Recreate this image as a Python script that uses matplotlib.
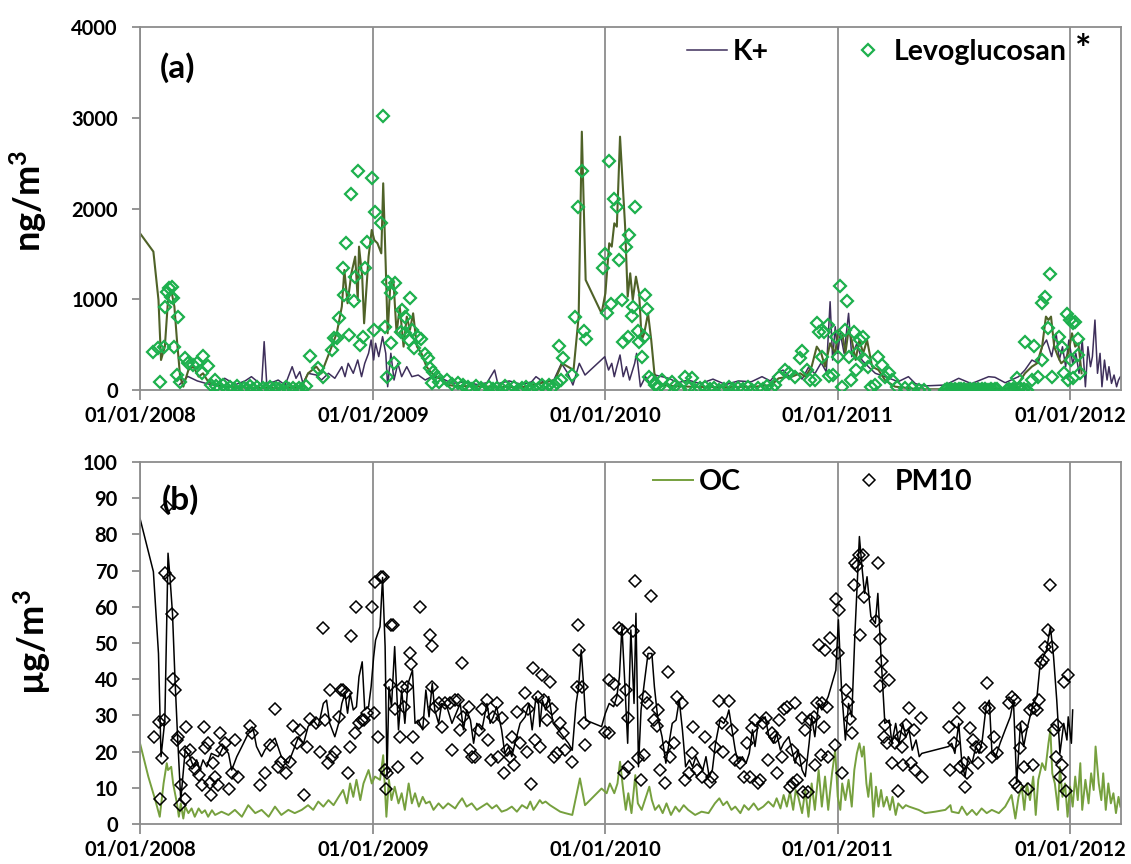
import matplotlib
matplotlib.use("Agg")
import matplotlib.pyplot as plt
import matplotlib.dates as mdates
import pandas as pd

plt.rcParams['font.family'] = ['Lato', 'DejaVu Sans']
plt.rcParams['font.weight'] = 'bold'
plt.rcParams['mathtext.fontset'] = 'custom'
plt.rcParams['mathtext.rm'] = 'Lato:bold'
plt.rcParams['mathtext.it'] = 'Lato:bold'
plt.rcParams['mathtext.bf'] = 'Lato:bold'

START = pd.Timestamp('2008-01-01')
year_ticks = [2008, 2009, 2010, 2011, 2012]

# (days since 01/01/2008, value)
levo_line = [(0, 1727), (21, 1525), (29, 992), (33, 331), (39, 478), (44, 992), (49, 1102), (54, 919),
             (58, 551), (63, 147), (68, 37), (76, 221), (84, 258), (92, 147), (99, 184), (107, 92),
             (118, 55), (133, 37), (149, 30), (175, 25), (202, 22), (228, 26), (254, 30), (264, 184),
             (277, 258), (285, 184), (293, 331), (301, 478), (309, 625), (317, 919), (321, 1323),
             (326, 956), (332, 1286), (338, 1470), (342, 992), (344, 1580), (349, 1249), (352, 735),
             (359, 1470), (364, 1764), (368, 1653), (373, 1617), (379, 1506), (382, 2278), (386, 1360),
             (389, 625), (393, 1139), (398, 1213), (403, 625), (408, 919), (414, 478), (419, 809),
             (424, 662), (429, 845), (435, 478), (442, 405), (450, 258), (458, 184), (466, 147),
             (474, 111), (484, 55), (495, 45), (547, 37), (600, 30), (652, 111), (663, 294), (681, 221),
             (689, 809), (694, 2847), (700, 1213), (725, 845), (731, 1066), (737, 1617), (741, 1580),
             (745, 1837), (749, 1800), (754, 2792), (762, 1800), (766, 1029), (770, 1286), (774, 992),
             (779, 1249), (784, 1066), (788, 551), (792, 625), (798, 845), (803, 551), (808, 184),
             (814, 74), (830, 45), (862, 37), (914, 30), (966, 37), (992, 55), (1003, 129), (1019, 147),
             (1024, 147), (1037, 184), (1045, 147), (1055, 258), (1063, 478), (1070, 405), (1076, 258),
             (1084, 515), (1092, 405), (1097, 662), (1103, 625), (1108, 405), (1113, 662), (1118, 551),
             (1124, 331), (1130, 551), (1136, 405), (1142, 551), (1150, 258), (1160, 221), (1170, 111),
             (1186, 37), (1223, 8), (1275, 8), (1328, 15), (1375, 15), (1380, 74), (1390, 184),
             (1401, 258), (1409, 294), (1417, 478), (1423, 809), (1427, 772), (1431, 809), (1436, 478),
             (1442, 368), (1447, 294), (1453, 331), (1458, 405), (1464, 625), (1469, 478), (1474, 515),
             (1479, 184)]

k_line = [(62, 60), (75, 150), (90, 100), (105, 70), (118, 50), (133, 129), (150, 60), (165, 100),
          (175, 147), (185, 90), (191, 55), (195, 533), (199, 73), (210, 90), (217, 110), (228, 55),
          (239, 257), (245, 129), (251, 202), (256, 73), (264, 184), (277, 165), (285, 110), (296, 184),
          (306, 129), (317, 257), (322, 147), (327, 294), (335, 184), (342, 331), (348, 147), (353, 294),
          (359, 405), (363, 551), (367, 331), (370, 515), (375, 368), (381, 588), (386, 405), (389, 36),
          (394, 405), (399, 110), (405, 294), (411, 147), (419, 257), (427, 147), (437, 165), (448, 110),
          (458, 147), (474, 129), (490, 73), (510, 90), (530, 60), (545, 80), (557, 220), (562, 70),
          (580, 100), (600, 60), (615, 90), (622, 147), (635, 80), (650, 110), (662, 294), (672, 184),
          (680, 55), (690, 294), (699, 165), (730, 367), (736, 220), (741, 294), (745, 147), (749, 257),
          (754, 386), (759, 147), (764, 257), (769, 110), (777, 294), (780, 404), (786, 36), (794, 147),
          (801, 73), (809, 165), (830, 130), (845, 80), (861, 110), (880, 70), (900, 120), (920, 60),
          (940, 100), (960, 90), (977, 147), (990, 100), (1000, 184), (1010, 220), (1020, 150),
          (1030, 200), (1040, 120), (1050, 250), (1060, 180), (1070, 300), (1078, 200), (1084, 973),
          (1088, 330), (1092, 698), (1096, 404), (1100, 624), (1106, 404), (1113, 845), (1118, 367),
          (1126, 514), (1134, 330), (1144, 257), (1155, 184), (1170, 147), (1191, 92), (1207, 147),
          (1218, 70), (1232, 45), (1265, 55), (1286, 129), (1306, 70), (1333, 147), (1343, 140),
          (1359, 80), (1380, 147), (1390, 220), (1401, 330), (1411, 294), (1417, 477), (1424, 551),
          (1432, 368), (1439, 624), (1444, 330), (1449, 477), (1454, 257), (1459, 551), (1465, 294),
          (1470, 404), (1475, 184), (1480, 551), (1485, 36), (1489, 477), (1493, 257), (1496, 368),
          (1500, 771), (1504, 184), (1508, 404), (1511, 36), (1515, 330), (1519, 110), (1522, 257),
          (1526, 73), (1530, 165), (1534, 36), (1537, 110), (1540, 147)]

levo_pts = [(21, 423), (31, 92), (28, 460), (37, 478), (39, 919), (43, 1084), (46, 1121), (51, 1139),
            (49, 1029), (52, 1011), (59, 809), (54, 478), (58, 166), (71, 349), (63, 92), (76, 294),
            (84, 276), (89, 294), (99, 375), (107, 265), (97, 184), (118, 111),
            (112, 60), (120, 40), (126, 20), (130, 55), (137, 10), (142, 35), (148, 15), (153, 45),
            (158, 5), (163, 25), (168, 10), (172, 40), (178, 15), (183, 30), (189, 5), (193, 20),
            (198, 12), (204, 35), (209, 8), (214, 25), (219, 15), (224, 5), (229, 30), (234, 10),
            (240, 20), (245, 5), (250, 25), (255, 12), (260, 40),
            (267, 375), (279, 239), (288, 147), (301, 441), (305, 570), (309, 570), (313, 790),
            (319, 1341), (323, 1617), (321, 1047), (329, 607), (332, 2157), (338, 1249), (336, 981),
            (343, 2417), (346, 496), (351, 588), (353, 1341), (357, 1635), (364, 2340), (368, 662),
            (369, 1966), (379, 1837), (381, 3020), (385, 699), (388, 147), (390, 1194), (395, 1066),
            (400, 1183), (395, 515), (399, 294), (411, 882), (410, 643), (416, 809), (417, 625),
            (424, 1018), (423, 551), (428, 662), (431, 460), (437, 588), (442, 559), (447, 397),
            (453, 349), (456, 239), (461, 203), (466, 147), (458, 74), (469, 92), (482, 111), (490, 67),
            (500, 74), (508, 55),
            (515, 30), (522, 10), (528, 45), (535, 20), (541, 5), (548, 35), (555, 15), (561, 25),
            (568, 8), (574, 40), (580, 12), (587, 30), (593, 5), (600, 20), (606, 35), (612, 10),
            (618, 25), (625, 15), (631, 50), (637, 20), (643, 60), (648, 35), (655, 80),
            (658, 489), (664, 357), (679, 166), (661, 111), (684, 809), (688, 2013), (694, 2417),
            (698, 654), (700, 559), (728, 1341), (731, 1495), (737, 2528), (733, 853), (740, 948),
            (745, 2105), (749, 2013), (752, 1433), (757, 992), (759, 533), (763, 1580), (766, 588),
            (768, 1708), (773, 816), (775, 911), (778, 2021), (782, 651), (784, 533), (788, 368),
            (791, 588), (793, 1047), (796, 889), (799, 147), (804, 111), (809, 55), (820, 111),
            (835, 92), (856, 147), (867, 129),
            (815, 30), (825, 15), (840, 40), (848, 10), (862, 25), (872, 5), (880, 20), (888, 35),
            (895, 10), (902, 25), (910, 5), (918, 15), (925, 30), (932, 8), (940, 20), (947, 12),
            (955, 35), (962, 5), (970, 25), (978, 15), (985, 40), (992, 20), (998, 60),
            (1003, 147), (1013, 221), (1019, 184), (1029, 147), (1037, 349), (1040, 434), (1047, 221),
            (1053, 111), (1060, 111), (1064, 742), (1067, 643), (1072, 368), (1075, 643), (1080, 717),
            (1082, 158), (1088, 166), (1093, 588), (1096, 368), (1100, 1150), (1103, 37), (1107, 662),
            (1111, 985), (1114, 368), (1117, 111), (1121, 643), (1124, 221), (1127, 405), (1131, 551),
            (1136, 588), (1139, 331), (1144, 258), (1149, 37), (1155, 55), (1160, 368), (1165, 276),
            (1170, 147), (1176, 184), (1181, 111), (1189, 37), (1202, 19), (1212, 19), (1223, 0),
            (1231, 0),
            (1265, 5), (1268, 12), (1271, 0), (1274, 8), (1277, 3), (1280, 10), (1283, 0), (1286, 6),
            (1289, 12), (1292, 2), (1295, 8), (1298, 0), (1301, 5), (1304, 12), (1307, 3), (1310, 8),
            (1313, 0), (1316, 10), (1319, 4), (1322, 7), (1325, 0), (1328, 12), (1331, 5), (1334, 3),
            (1337, 9), (1340, 0), (1343, 6), (1346, 10), (1362, 5), (1365, 15), (1368, 0), (1371, 10),
            (1374, 4), (1377, 129), (1380, 8), (1383, 20), (1386, 0), (1389, 12), (1393, 5),
            (1390, 533), (1401, 111), (1405, 489), (1411, 147), (1417, 331), (1417, 956), (1421, 1029),
            (1430, 1279), (1427, 680), (1432, 147), (1443, 581), (1448, 478), (1451, 184), (1456, 834),
            (1458, 111), (1461, 772), (1465, 735), (1469, 754), (1463, 331), (1466, 129), (1473, 559),
            (1474, 386), (1477, 184)]

oc_line = [(0, 22.3), (13, 13.1), (24, 6.6), (31, 2.0), (37, 11.2), (42, 16.8), (44, 14.9), (49, 15.8),
           (52, 11.2), (58, 5.7), (61, 2.0), (64, 5.7), (68, 1.5), (71, 4.8), (76, 3.0), (81, 4.3),
           (86, 2.0), (92, 4.3), (97, 3.0), (102, 3.8), (107, 2.0), (113, 3.8), (118, 2.5), (128, 3.4),
           (139, 2.5), (149, 3.9), (160, 2.0), (170, 5.2), (181, 3.0), (191, 3.9), (202, 2.0), (212, 4.8),
           (222, 2.5), (233, 3.9), (243, 3.0), (254, 3.9), (264, 5.2), (272, 3.9), (280, 6.2), (288, 4.8),
           (296, 6.6), (304, 5.2), (312, 7.5), (319, 9.4), (325, 5.7), (330, 11.2), (335, 7.5),
           (340, 12.2), (346, 6.6), (351, 11.2), (359, 14.9), (364, 11.2), (369, 13.1), (377, 12.2),
           (382, 19.0), (387, 2.0), (391, 12.2), (395, 6.6), (400, 10.3), (406, 5.7), (411, 8.5),
           (416, 3.9), (422, 11.2), (427, 5.7), (432, 8.5), (438, 4.8), (444, 7.5), (449, 5.7),
           (455, 6.2), (461, 3.9), (469, 5.7), (476, 4.3), (484, 5.7), (495, 4.3), (500, 5.7), (506, 7.1),
           (513, 4.8), (521, 5.7), (529, 3.9), (537, 4.8), (545, 5.7), (553, 4.3), (560, 5.2), (568, 3.4),
           (576, 3.9), (584, 4.8), (592, 3.4), (600, 5.2), (608, 4.3), (613, 6.2), (618, 3.9), (623, 5.2),
           (628, 6.6), (632, 5.7), (637, 6.2), (644, 5.2), (652, 4.3), (660, 3.4), (668, 3.0), (679, 2.5),
           (691, 12.6), (699, 5.2), (725, 9.8), (733, 8.5), (738, 11.2), (745, 8.5), (750, 11.2),
           (754, 17.2), (759, 9.4), (763, 3.9), (767, 8.5), (772, 3.0), (778, 13.5), (782, 5.7),
           (788, 3.9), (793, 6.6), (800, 10.3), (804, 6.6), (809, 3.9), (815, 5.2), (821, 3.0), (827, 5.7),
           (834, 2.5), (841, 4.8), (847, 3.4), (854, 5.2), (861, 3.9), (872, 2.5), (882, 3.4), (893, 3.0),
           (903, 5.7), (910, 7.1), (916, 5.2), (922, 6.2), (929, 3.9), (935, 4.8), (943, 3.0), (949, 5.2),
           (956, 3.9), (964, 5.7), (971, 3.9), (979, 4.8), (987, 6.2), (995, 4.8), (1000, 7.1),
           (1006, 4.3), (1011, 8.0), (1016, 4.8), (1021, 8.9), (1026, 3.9), (1030, 9.4), (1034, 7.5),
           (1040, 3.0), (1045, 9.4), (1050, 2.0), (1055, 11.2), (1060, 3.9), (1066, 14.9), (1071, 4.8),
           (1076, 13.1), (1081, 3.9), (1087, 14.0), (1092, 20.4), (1096, 7.5), (1100, 3.9), (1103, 11.2),
           (1108, 6.6), (1113, 12.2), (1118, 4.8), (1122, 14.9), (1126, 19.5), (1130, 22.3), (1134, 18.6),
           (1137, 21.4), (1141, 11.2), (1144, 7.5), (1148, 14.0), (1152, 2.0), (1156, 10.3), (1160, 4.8),
           (1164, 9.4), (1168, 4.8), (1173, 7.5), (1178, 3.9), (1182, 7.5), (1187, 2.5), (1191, 5.7),
           (1198, 4.3), (1203, 5.2), (1208, 4.8), (1223, 3.9), (1233, 3.0), (1249, 3.4), (1265, 3.9),
           (1273, 5.2), (1275, 3.4), (1286, 3.0), (1291, 4.8), (1299, 2.5), (1307, 3.9), (1314, 2.5),
           (1322, 4.3), (1330, 3.0), (1338, 3.9), (1349, 3.0), (1359, 4.8), (1369, 8.0), (1375, 1.5),
           (1380, 7.5), (1385, 10.3), (1389, 3.9), (1393, 11.2), (1398, 6.6), (1403, 13.1), (1407, 2.5),
           (1411, 12.2), (1417, 16.8), (1422, 14.9), (1427, 22.3), (1430, 26.0), (1433, 14.0),
           (1437, 11.2), (1442, 3.9), (1445, 15.8), (1449, 7.5), (1453, 11.2), (1457, 2.0), (1461, 10.3),
           (1465, 4.8), (1469, 13.1), (1473, 6.6), (1477, 16.8), (1480, 3.9), (1485, 12.2), (1490, 5.7),
           (1494, 14.0), (1498, 9.4), (1501, 21.4), (1506, 11.2), (1510, 6.6), (1513, 14.0), (1517, 3.9),
           (1521, 11.2), (1525, 5.7), (1529, 8.5), (1533, 3.0), (1537, 7.5), (1540, 4.8)]

pm10_line = [(0, 84.4), (21, 69.7), (29, 47.1), (33, 18.6), (39, 28.7), (44, 74.8), (47, 68.3), (51, 58.2),
             (55, 39.8), (59, 24.1), (64, 6.6), (71, 20.4), (78, 18.6), (84, 15.8), (89, 17.7), (94, 14.9),
             (99, 17.7), (105, 15.8), (112, 19.5), (123, 18.6), (131, 21.4), (139, 19.5), (144, 14.9),
             (152, 18.6), (160, 21.4), (170, 25.0), (178, 26.0), (183, 21.4), (191, 18.6), (196, 20.4),
             (204, 22.3), (212, 23.7), (222, 18.6), (233, 16.8), (241, 20.4), (249, 24.1), (257, 22.3),
             (264, 26.9), (272, 28.7), (280, 26.9), (288, 33.3), (293, 34.2), (298, 27.8), (306, 24.1),
             (312, 27.8), (317, 33.3), (322, 36.1), (326, 30.6), (330, 36.1), (335, 31.5), (340, 32.4),
             (344, 40.7), (349, 44.8), (353, 31.5), (359, 32.4), (363, 37.9), (367, 46.2), (370, 50.8),
             (377, 54.5), (381, 68.1), (385, 49.0), (388, 13.1), (391, 37.9), (395, 32.4), (400, 49.0),
             (406, 26.0), (411, 37.0), (416, 27.8), (421, 38.8), (428, 42.5), (432, 27.8), (437, 28.7),
             (444, 26.0), (449, 37.0), (454, 29.6), (459, 38.8), (463, 31.5), (469, 27.8), (474, 33.3),
             (482, 32.4), (490, 27.8), (503, 33.3), (508, 26.0), (513, 31.5), (519, 28.7), (524, 22.3),
             (529, 27.8), (537, 26.0), (545, 33.3), (550, 27.8), (555, 29.6), (560, 32.4), (568, 26.0),
             (573, 19.5), (579, 21.4), (584, 18.6), (589, 22.3), (597, 27.8), (605, 29.6), (611, 33.3),
             (616, 26.0), (622, 35.2), (626, 33.3), (628, 26.9), (632, 34.2), (637, 31.5), (642, 35.2),
             (649, 27.8), (657, 26.0), (665, 24.1), (673, 22.3), (679, 20.4), (685, 33.3), (689, 37.9),
             (693, 48.1), (697, 37.9), (700, 28.7), (725, 26.9), (731, 30.6), (737, 33.3), (744, 32.4),
             (749, 35.2), (753, 40.7), (757, 54.5), (761, 40.7), (766, 22.3), (771, 53.6), (776, 33.3),
             (779, 58.2), (783, 15.8), (787, 31.5), (792, 38.8), (798, 47.1), (804, 47.1), (808, 37.9),
             (813, 29.6), (820, 24.1), (826, 16.8), (831, 22.3), (836, 27.8), (842, 28.7), (847, 34.2),
             (852, 26.0), (857, 15.8), (863, 17.7), (868, 15.8), (873, 18.6), (878, 16.8), (884, 14.9),
             (889, 18.6), (894, 13.1), (899, 14.9), (904, 22.3), (911, 28.7), (917, 27.8), (922, 29.6),
             (925, 31.5), (930, 26.0), (935, 20.4), (940, 16.8), (946, 18.6), (952, 16.8), (957, 19.5),
             (962, 26.0), (966, 21.4), (971, 27.8), (977, 28.7), (982, 29.6), (988, 24.1), (995, 22.3),
             (1000, 25.0), (1006, 20.4), (1011, 22.3), (1019, 24.1), (1024, 20.4), (1029, 16.8),
             (1034, 20.4), (1040, 14.9), (1045, 13.1), (1051, 22.3), (1055, 29.6), (1060, 24.1),
             (1066, 33.3), (1071, 31.5), (1076, 33.3), (1081, 35.2), (1087, 38.8), (1093, 42.5),
             (1097, 56.4), (1102, 37.0), (1108, 23.2), (1113, 33.3), (1118, 29.6), (1123, 52.7),
             (1130, 79.4), (1134, 71.1), (1138, 63.7), (1142, 68.3), (1148, 57.3), (1155, 55.4),
             (1159, 63.7), (1164, 46.2), (1170, 27.8), (1177, 28.7), (1181, 22.3), (1187, 27.8),
             (1192, 22.3), (1198, 27.8), (1203, 24.1), (1208, 26.0), (1213, 20.4), (1219, 23.2),
             (1224, 18.6), (1228, 19.5), (1270, 21.4), (1275, 22.3), (1280, 19.5), (1286, 27.8),
             (1291, 16.8), (1296, 13.1), (1301, 18.6), (1307, 16.8), (1313, 21.4), (1318, 19.5),
             (1323, 23.2), (1329, 32.4), (1334, 34.2), (1338, 20.4), (1344, 18.6), (1351, 22.3),
             (1359, 26.0), (1367, 29.6), (1372, 34.2), (1377, 11.2), (1383, 27.8), (1388, 21.4),
             (1393, 26.0), (1398, 29.6), (1403, 33.3), (1409, 35.2), (1414, 44.4), (1419, 46.2),
             (1424, 48.1), (1430, 54.5), (1435, 46.2), (1440, 34.2), (1445, 19.5), (1451, 27.8),
             (1456, 23.2), (1458, 29.6), (1463, 22.3), (1465, 31.5)]

pm10_pts = [(22, 24.1), (31, 6.8), (30, 28.3), (37, 28.7), (35, 18.1), (42, 87.7), (40, 69.2), (46, 67.9),
            (50, 58.0), (52, 40.0), (55, 37.0), (58, 23.2), (60, 24.0), (65, 10.8), (70, 6.8), (63, 5.2),
            (73, 26.7), (71, 20.0), (78, 20.4), (82, 16.8), (86, 15.1), (92, 13.5), (97, 10.8), (101, 26.7),
            (102, 20.9), (107, 22.3), (110, 11.2), (111, 8.0), (114, 16.8), (118, 13.1), (122, 10.8),
            (126, 25.0), (129, 20.4), (133, 22.3), (139, 9.8), (144, 14.0), (149, 23.2), (154, 13.1),
            (173, 27.1), (176, 25.2), (189, 10.8), (196, 14.0), (204, 21.8), (212, 31.9), (217, 15.8),
            (222, 17.2), (229, 14.0), (236, 17.2), (241, 27.1), (246, 22.3), (251, 26.1), (258, 8.0),
            (263, 21.4), (267, 28.9), (277, 27.8), (283, 20.0), (288, 54.1), (291, 28.7), (295, 16.8),
            (298, 37.0), (302, 18.6), (306, 20.0), (312, 29.6), (316, 37.0), (319, 37.0), (323, 36.3),
            (327, 14.0), (330, 21.4), (332, 52.0), (337, 25.0), (340, 60.0), (344, 28.0), (348, 28.7),
            (352, 28.7), (356, 30.6), (364, 60.0), (368, 30.6), (369, 66.9), (374, 24.1), (378, 68.1),
            (381, 68.1), (385, 14.9), (387, 9.8), (388, 14.0), (393, 38.4), (395, 55.0), (398, 55.0),
            (400, 31.9), (406, 15.8), (408, 24.1), (411, 37.9), (415, 32.4), (420, 37.9), (424, 47.1),
            (426, 44.2), (429, 24.1), (435, 18.1), (440, 60.0), (445, 27.8), (456, 52.2), (458, 49.2),
            (459, 37.9), (463, 32.4), (470, 33.3), (474, 26.9), (479, 33.3), (487, 33.3), (490, 20.4),
            (495, 34.3), (505, 44.4), (500, 34.3), (503, 26.0), (508, 29.6), (516, 32.4), (521, 18.6),
            (526, 18.6), (518, 20.4), (532, 26.0), (537, 31.9), (545, 34.3), (547, 23.2), (552, 17.7),
            (555, 29.6), (560, 33.3), (563, 18.6), (568, 29.2), (572, 14.2), (576, 20.4), (581, 18.6),
            (584, 24.1), (587, 16.3), (592, 31.0), (597, 22.3), (604, 36.1), (608, 20.0), (610, 31.9),
            (614, 11.0), (618, 43.0), (621, 23.2), (625, 35.2), (628, 21.4), (632, 41.2), (635, 34.3),
            (639, 28.7), (644, 39.3), (647, 31.9), (651, 18.6), (655, 19.5), (660, 27.8), (664, 25.0),
            (668, 20.4), (678, 17.2), (688, 55.0), (690, 48.1), (686, 37.9), (694, 37.9), (699, 21.8),
            (698, 27.8), (730, 25.5), (736, 25.0), (737, 39.8), (745, 38.8), (749, 34.3), (753, 54.2),
            (757, 53.6), (763, 37.0), (761, 14.0), (767, 15.8), (767, 29.2), (775, 53.4), (778, 67.2),
            (782, 18.1), (787, 12.2), (791, 19.1), (793, 35.2), (796, 33.3), (799, 47.1), (803, 63.0),
            (808, 28.7), (812, 27.1), (814, 31.5), (817, 14.9), (824, 11.2), (826, 21.4), (829, 42.1),
            (833, 18.6), (838, 22.3), (843, 35.2), (851, 33.3), (856, 12.2), (862, 14.0), (867, 19.5),
            (869, 26.9), (875, 14.9), (882, 13.1), (888, 24.1), (896, 11.7), (898, 13.1), (903, 21.4),
            (910, 34.1), (916, 20.0), (914, 27.8), (925, 34.1), (930, 26.0), (935, 17.7), (943, 16.8),
            (948, 13.1), (953, 22.3), (958, 13.1), (962, 26.4), (966, 28.7), (970, 11.2), (974, 12.2),
            (979, 27.8), (983, 29.2), (987, 17.7), (992, 25.0), (998, 24.1), (1000, 14.0), (1004, 28.7),
            (1008, 18.6), (1012, 31.9), (1016, 32.4), (1021, 10.3), (1029, 33.3), (1026, 11.2),
            (1032, 12.2), (1024, 20.4), (1037, 17.7), (1040, 29.2), (1045, 26.0), (1042, 8.9), (1049, 8.9),
            (1053, 28.7), (1058, 29.6), (1060, 16.3), (1063, 33.3), (1066, 49.4), (1070, 19.1),
            (1071, 33.3), (1074, 26.9), (1076, 48.1), (1079, 32.4), (1081, 18.6), (1084, 51.3),
            (1091, 21.8), (1093, 62.1), (1098, 59.1), (1097, 47.2), (1102, 14.0), (1109, 37.0),
            (1112, 33.8), (1115, 28.9), (1118, 25.0), (1121, 66.0), (1123, 72.0), (1126, 71.3),
            (1129, 74.3), (1136, 74.3), (1131, 52.2), (1138, 62.8), (1160, 72.0), (1156, 56.1),
            (1163, 51.0), (1165, 45.1), (1164, 42.1), (1163, 38.0), (1177, 39.8), (1170, 27.4),
            (1168, 24.1), (1173, 22.3), (1181, 16.8), (1186, 22.3), (1190, 9.0), (1194, 24.1),
            (1197, 21.4), (1199, 16.3), (1203, 27.4), (1208, 32.0), (1211, 16.8), (1215, 26.0),
            (1218, 14.9), (1227, 29.2), (1229, 13.1), (1270, 26.9), (1273, 14.9), (1278, 22.3),
            (1283, 28.3), (1286, 32.0), (1288, 15.8), (1294, 16.8), (1296, 10.3), (1299, 14.0),
            (1304, 26.4), (1309, 23.2), (1313, 21.4), (1317, 16.8), (1321, 21.4), (1327, 32.0),
            (1330, 39.0), (1334, 32.0), (1338, 18.6), (1342, 24.1), (1346, 19.5), (1365, 33.3),
            (1369, 35.2), (1374, 34.3), (1375, 11.2), (1379, 10.3), (1383, 20.9), (1385, 26.9),
            (1388, 15.8), (1395, 9.8), (1398, 31.5), (1402, 16.3), (1405, 32.0), (1409, 31.5),
            (1412, 34.3), (1415, 44.4), (1419, 45.3), (1422, 49.0), (1427, 53.6), (1430, 66.1),
            (1432, 49.0), (1436, 26.0), (1440, 27.4), (1439, 18.6), (1448, 16.3), (1445, 13.1),
            (1451, 39.3), (1457, 41.2), (1454, 9.0)]


def series(pairs):
    days, vals = zip(*pairs)
    return START + pd.to_timedelta(list(days), unit='D'), list(vals)


def style_axes(ax, ymax, ystep):
    ax.set_xlim(START, START + pd.Timedelta(days=1541))
    ax.set_ylim(0, ymax)
    ax.set_yticks(range(0, ymax + 1, ystep))
    ax.set_xticks([pd.Timestamp(f'{y}-01-01') for y in year_ticks])
    ax.xaxis.set_major_formatter(mdates.DateFormatter('%d/%m/%Y'))
    ax.grid(axis='x', color='#8c8c8c', lw=1.3, zorder=0)
    ax.set_axisbelow(True)
    for s in ax.spines.values():
        s.set_color('#8c8c8c')
        s.set_linewidth(1.3)
    ax.tick_params(axis='x', length=7, width=1.3, color='#8c8c8c', pad=4, labelsize=14.5)
    ax.tick_params(axis='y', length=6, width=1.3, color='#8c8c8c', pad=10, labelsize=14.5)


fig = plt.figure(figsize=(11.31, 8.64), dpi=100)
ax1 = fig.add_axes([0.1238, 0.5486, 0.8674, 0.4201])
ax2 = fig.add_axes([0.1238, 0.0463, 0.8674, 0.4190])

# panel (a)
x, y = series(k_line)
hk, = ax1.plot(x, y, color='#3e2f5b', lw=1.1, label='K+', zorder=2)
x, y = series(levo_line)
ax1.plot(x, y, color='#4f6228', lw=1.5, zorder=2)
x, y = series(levo_pts)
hl, = ax1.plot(x, y, ls='none', marker='D', ms=5.7, mfc='none', mec='#1db04d', mew=1.6,
               label='Levoglucosan', zorder=3)
style_axes(ax1, 4000, 1000)
ax1.legend(handles=[hk, hl], ncol=2, loc='center left', bbox_to_anchor=(687 / 1131, 1 - 52 / 864),
           bbox_transform=fig.transFigure, frameon=False, fontsize=20.5, handlelength=1.4,
           handletextpad=0.2, columnspacing=2.8, borderpad=0, borderaxespad=0, numpoints=1)
ax1.text(0.02, 0.887, '(a)', transform=ax1.transAxes, fontsize=24, va='center')
fig.text(1083 / 1131, 1 - 50 / 864, '*', fontsize=28, ha='center', va='center')
fig.text(28 / 1131, 1 - 201 / 864, 'ng/m$^{3}$', rotation=90, fontsize=26, ha='center', va='center')

# panel (b)
x, y = series(oc_line)
ho, = ax2.plot(x, y, color='#76a03e', lw=1.4, label='OC', zorder=2)
x, y = series(pm10_line)
ax2.plot(x, y, color='black', lw=1.1, zorder=2)
x, y = series(pm10_pts)
hp, = ax2.plot(x, y, ls='none', marker='D', ms=5.7, mfc='none', mec='black', mew=1.1,
               label='PM10', zorder=3)
style_axes(ax2, 100, 10)
ax2.legend(handles=[ho, hp], ncol=2, loc='center left', bbox_to_anchor=(653 / 1131, 1 - 482 / 864),
           bbox_transform=fig.transFigure, frameon=False, fontsize=20.5, handlelength=1.4,
           handletextpad=0.2, columnspacing=3.8, borderpad=0, borderaxespad=0, numpoints=1)
ax2.text(0.022, 0.895, '(b)', transform=ax2.transAxes, fontsize=24, va='center')
fig.text(32 / 1131, 1 - 642 / 864, 'µg/m$^{3}$', rotation=90, fontsize=26, ha='center', va='center')

fig.savefig('out.png', dpi=100)
